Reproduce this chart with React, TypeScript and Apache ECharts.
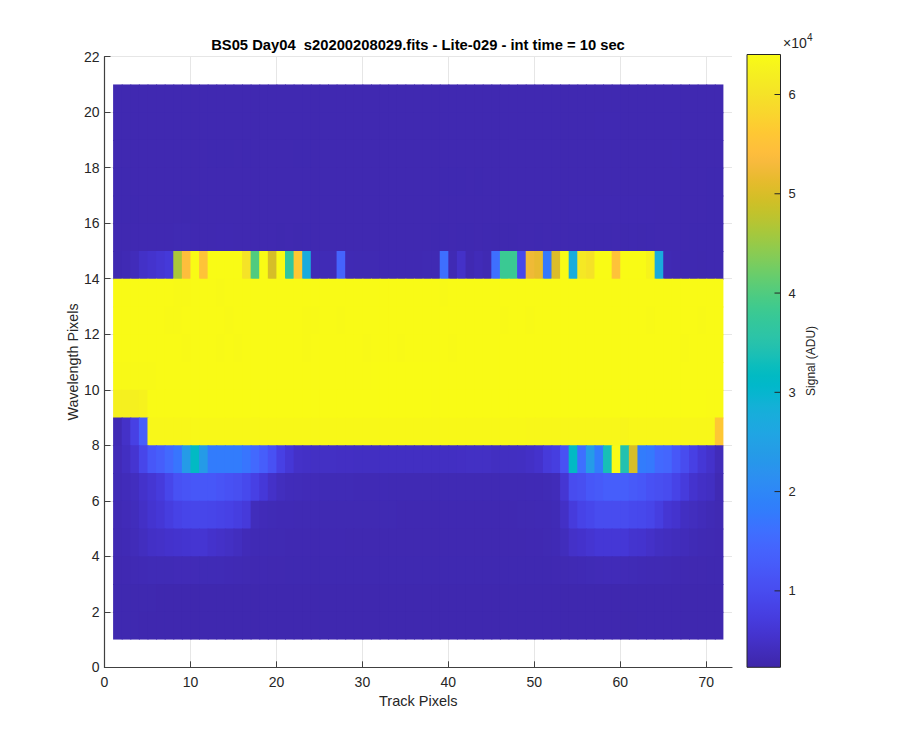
import React, { useEffect, useRef } from "react";
import * as echarts from "echarts";

const FONT = "Liberation Sans";
const TITLE = "BS05 Day04  s20200208029.fits - Lite-029 - int time = 10 sec";
const CLIM_MIN = 2300;
const CLIM_MAX = 64030;
const xTicks = [0, 10, 20, 30, 40, 50, 60, 70];
const yTicks = [0, 2, 4, 6, 8, 10, 12, 14, 16, 18, 20, 22];
const barTicks = [10000, 20000, 30000, 40000, 50000, 60000];

const parula = [
  "#3e26a8","#402ab4","#422ebf","#4432cb","#4537d5","#463cde","#4741e5","#4747eb",
  "#484df0","#4852f4","#4758f8","#465efb","#4563fd","#4269fe","#3e6fff","#3875fe",
  "#327cfc","#2f81fa","#2e87f7","#2d8cf3","#2b91ef","#2796eb","#259be7","#23a0e5",
  "#20a5e3","#1ca9df","#18addb","#12b1d6","#08b5d0","#01b8ca","#02bac3","#0bbdbd",
  "#19bfb6","#24c1ae","#2cc4a7","#31c69f","#37c897","#3fca8e","#4acb84","#57cc7a",
  "#64cd6f","#72cd64","#81cc59","#8fcb4e","#9dc943","#abc739","#b9c431","#c5c22a",
  "#d1bf27","#dcbd29","#e6bb2d","#efba36","#f8ba3d","#febe3c","#fec338","#fec833",
  "#fccf30","#f9d62d","#f7dc2a","#f5e327","#f5e924","#f5ef20","#f7f51b","#f9fb15",
];

const row1 = [
  2950,2950,2950,2900,2900,2900,2850,2850,2850,2850,
  2850,2850,2850,2850,2850,2850,2850,2850,2850,2850,
  2850,2850,2850,2850,2850,2850,2850,2850,2850,2850,
  2850,2850,2850,2850,2850,2850,2850,2850,2850,2850,
  2850,2850,2850,2850,2850,2850,2850,2850,2850,2850,
  2850,2850,2850,2850,2850,2850,2850,2850,2850,2800,
  2800,2850,2850,2850,2850,2850,2850,2850,2850,2850,2850,
];
const row2 = [
  2950,2950,2950,2950,2950,2900,2900,2900,2900,2900,
  2900,2900,2900,2900,2900,2900,2900,2900,2900,2900,
  2900,2900,2900,2900,2900,2900,2900,2900,2900,2900,
  2900,2900,2900,2900,2900,2900,2900,2900,2900,2900,
  2900,2900,2900,2900,2900,2900,2900,2900,2900,2900,
  2900,2900,2900,2900,2900,2900,2900,2900,2900,2900,
  2900,2900,2900,2900,2900,2900,2900,2900,2900,2900,2900,
];
const row3 = [
  3050,3100,3250,3350,3450,3500,3500,3550,3550,3550,
  3500,3500,3450,3400,3300,3200,3150,3100,3050,3050,
  3000,3000,3000,3000,3000,3000,3000,3000,3000,3000,
  3000,3000,3000,3000,3000,3000,3000,3000,3000,3000,
  3000,3000,3000,3000,3000,3000,3000,3000,3000,3000,
  3000,3100,3200,3300,3350,3450,3550,3600,3600,3550,
  3450,3350,3300,3250,3200,3150,3100,3050,3050,3000,3000,
];
const row4 = [
  3200,3400,3700,4300,4800,5000,5300,5500,5700,5900,
  5900,5300,5000,4700,4300,3600,3400,3300,3200,3200,
  3150,3100,3100,3100,3100,3100,3100,3050,3050,3050,
  3050,3050,3050,3050,3050,3050,3050,3050,3050,3050,
  3050,3050,3050,3050,3050,3050,3050,3050,3100,3150,
  3200,3400,4000,5000,5300,5800,6300,6300,6300,6300,
  5600,5500,5000,4500,4300,4000,3800,3500,3300,3200,3100,
];
const row5 = [
  3300,3600,4000,4800,5700,6300,7300,8300,8800,9000,
  9000,8800,8500,8200,7500,6800,3900,3600,3500,3400,
  3350,3300,3300,3250,3200,3200,3200,3200,3200,3200,
  3200,3200,3200,3150,3150,3150,3150,3150,3150,3150,
  3150,3150,3150,3150,3150,3150,3150,3200,3200,3250,
  3300,3500,4800,7000,8500,9200,10000,10000,10000,10000,
  9500,9300,8800,7500,6000,5500,4500,4200,3800,3500,3200,
];
const row6 = [
  3500,3800,4300,5200,6000,7000,9000,11000,11500,12000,
  12000,12000,11500,11000,10500,9500,8000,6500,5000,4200,
  3800,3700,3600,3600,3500,3500,3500,3500,3400,3400,
  3400,3400,3300,3300,3300,3300,3300,3300,3300,3300,
  3300,3300,3300,3300,3300,3300,3300,3300,3400,3400,
  3500,3700,6000,10000,10500,12000,12500,13000,13000,13000,
  12500,12000,11000,10500,10000,8500,7000,5500,4800,4500,3300,
];
const row7 = [
  3600,4500,5800,9000,12000,13000,15000,17000,23900,31700,
  23900,18000,18000,18000,18000,17000,15000,13000,11000,8000,
  6300,5000,4800,4700,4700,4700,4600,4600,4500,4500,
  4500,4500,4500,4500,4500,4500,4500,4500,4500,4500,
  4600,4700,4700,4700,4400,4400,4400,4500,4800,5300,
  6800,7500,11000,31500,16000,24000,18000,33500,64000,34500,
  49800,18000,17500,15000,14500,12000,10000,8000,6300,5200,3800,
];
const row8 = [
  3400,5000,8000,13000,63300,63300,63300,63300,63300,63600,
  63600,63600,63600,63600,63600,63600,63600,63600,63600,63600,
  63600,63600,63600,63600,63600,63600,63600,63600,63600,63600,
  63600,63600,63600,63600,63600,63600,63600,63600,63600,63600,
  63600,63600,63600,63600,63600,63600,63600,63600,63300,63300,
  63300,63300,63300,63300,63300,63300,63300,63300,63300,63100,
  63300,63300,63300,63300,63300,63300,63300,63300,63300,63300,56000,
];
const row9 = [
  62300,62300,62300,62600,63900,63900,63900,63900,63900,64000,
  64000,64000,64000,64000,64000,64000,64000,64000,64000,64000,
  64000,64000,64000,64000,64000,64000,64000,64000,64000,64000,
  64000,64000,64000,64000,64000,64000,64000,63800,64000,64000,
  64000,64000,64000,64000,64000,64000,64000,64000,64000,64000,
  64000,64000,64000,64000,64000,64000,64000,64000,64000,64000,
  64000,64000,64000,64000,64000,64000,64000,64000,64000,63900,63800,
];
const row10 = [
  63700,63700,63700,63700,63700,63900,63900,63900,63900,63900,
  63900,63900,63900,63900,63900,63900,63900,63900,63900,63900,
  63900,63900,63900,63900,63900,63900,63900,63900,63900,63900,
  64000,64000,64000,64000,64000,64000,64000,64000,63900,63900,
  63900,63900,63900,63900,63900,63900,63900,63900,63900,63900,
  63900,63900,63900,63900,63900,63900,63900,63900,63900,63900,
  63900,63900,63900,63900,63900,63900,63900,63900,63900,63800,63800,
];
const row11 = [
  63800,63800,63800,63800,63800,63800,63800,63800,63750,63800,
  63800,63800,63750,63800,63750,63800,63800,63800,63800,63800,
  63800,63800,63750,63800,63800,63800,63800,63800,63800,63750,
  63800,63800,63800,63750,63800,63800,63800,63800,63800,63750,
  63800,63800,63800,63800,63800,63800,63800,63800,63800,63800,
  63800,63800,63800,63800,63800,63800,63800,63800,63800,63800,
  63800,63800,63800,63800,63800,63800,63750,63800,63800,63800,63800,
];
const row12 = [
  63800,63800,63800,63800,63800,63800,63750,63750,63800,63800,
  63800,63800,63800,63750,63800,63800,63800,63800,63800,63800,
  63800,63800,63750,63750,63800,63800,63750,63800,63800,63800,
  63800,63800,63800,63800,63800,63800,63800,63800,63800,63800,
  63800,63800,63800,63800,63800,63750,63800,63800,63750,63800,
  63800,63800,63800,63800,63800,63800,63800,63800,63800,63800,
  63800,63800,63750,63800,63800,63800,63800,63800,63750,63800,63800,
];
const row13 = [
  63800,63800,63800,63800,63800,63800,63800,63750,63750,63800,
  63800,63800,63750,63800,63800,63800,63800,63800,63800,63800,
  63800,63800,63800,63800,63800,63800,63800,63800,63800,63800,
  63800,63800,63800,63800,63800,63800,63800,63800,63750,63800,
  63800,63800,63800,63800,63800,63800,63800,63800,63800,63800,
  63800,63800,63800,63800,63800,63800,63800,63800,63800,63800,
  63800,63800,63800,63800,63800,63800,63800,63800,63800,63800,63800,
];
const row14 = [
  3000,3300,3800,4900,5400,6000,6700,46400,54200,64000,
  55200,64000,64000,64000,64000,60100,40000,64000,49800,64000,
  36600,56200,27300,3500,3500,3500,14000,3300,3200,3200,
  3200,3100,3100,3100,3100,3100,3200,3200,16000,3300,
  5000,3100,3600,3200,16000,38000,38000,9100,52300,51500,
  17500,50300,64000,27500,61000,60000,64000,64000,55000,64000,
  64000,64000,62800,27300,3300,3100,3000,3000,2950,3000,3000,
];
const row15 = [
  3050,3050,3100,3150,3150,3150,3150,3200,3200,3100,
  3050,3050,3100,3100,3050,3050,3050,3050,3050,2950,
  3050,2950,3000,3050,3050,3050,3050,3050,3050,3050,
  3050,3050,3050,3050,3050,3050,3050,3000,3000,3050,
  3000,3000,3050,3000,2950,2950,2950,3050,3050,3000,
  3050,3000,3050,3000,3000,3000,3000,3000,3050,2950,
  3000,2950,3000,3050,3050,3050,3050,3000,3000,3000,3000,
];
const row16 = [
  3000,3000,3000,3050,3050,3050,3050,3050,3000,3000,
  3050,3050,3050,3050,3050,3050,3050,3050,3050,3050,
  3050,3050,3050,3050,3050,3050,3050,3050,3050,3050,
  3050,3050,3050,3050,3050,3050,3050,3050,3050,3050,
  3050,3050,3050,3050,3050,3050,3050,3050,3050,3050,
  3050,3050,3050,3100,3100,3100,3100,3100,3100,3100,
  3100,3100,3100,3050,3050,3050,3050,3050,3050,3000,3000,
];
const row17 = [
  3000,3000,3050,3050,3050,3050,3050,3050,3050,3050,
  3050,3050,3050,3050,3050,3050,3050,3050,3050,3050,
  3050,3050,3050,3050,3050,3050,3050,3050,3050,3050,
  3050,3050,3050,3050,3050,3050,3050,3050,3000,3000,
  3000,3050,3000,3050,3050,3050,3050,3050,3050,3050,
  3050,3050,3050,3050,3050,3050,3050,3050,3050,3050,
  3050,3050,3050,3050,3050,3050,3050,3050,3050,3000,3000,
];
const row18 = [
  3050,3050,3050,3050,3050,3050,3050,3050,3050,3050,
  3050,3000,3000,3000,3050,3000,3050,3050,3050,3050,
  3050,3000,3000,3050,3050,3050,3050,3050,3050,3050,
  3050,3050,3050,3050,3050,3050,3050,3050,3050,3050,
  3050,3050,3050,3050,3050,3050,3050,3050,3050,3050,
  3050,3050,3050,3050,3050,3050,3050,3050,3050,3050,
  3050,3050,3050,3050,3050,3100,3050,3050,3050,3050,3050,
];
const row19 = [
  3050,3050,3050,3050,3050,3050,3050,3050,3050,3050,
  3050,3050,3050,3050,3050,3050,3050,3050,3050,3050,
  3050,3050,3050,3050,3050,3050,3050,3050,3050,3050,
  3050,3050,3050,3050,3050,3050,3050,3050,3050,3050,
  3050,3050,3050,3050,3050,3050,3050,3050,3050,3050,
  3050,3050,3050,3050,3050,3050,3100,3100,3100,3050,
  3050,3050,3050,3050,3050,3050,3050,3050,3050,3050,3050,
];
const row20 = [
  3050,3050,3050,3050,3050,3050,3050,3050,3050,3050,
  3050,3050,3050,3050,3050,3050,3050,3050,3050,3050,
  3050,3050,3050,3050,3050,3050,3050,3050,3050,3050,
  3050,3050,3050,3050,3050,3050,3050,3050,3050,3050,
  3050,3050,3050,3050,3050,3050,3050,3050,3050,3050,
  3050,3050,3050,3050,3050,3050,3050,3050,3050,3050,
  3050,3050,3050,3050,3050,3050,3050,3050,3050,3050,3050,
];
const rows = [
  row1,row2,row3,row4,row5,row6,row7,row8,row9,row10,
  row11,row12,row13,row14,row15,row16,row17,row18,row19,row20,
];

// top rows first, so that each lower row redraws the seam-hiding overlap of the one above it
const cells: number[][] = [];
for (let j = rows.length - 1; j >= 0; j--) {
  rows[j].forEach((v, i) => cells.push([i + 1, j + 1, v]));
}
const LAST_COL = 71;

const TEXT = "#262626";
const AXIS = "#404040";
const GRIDC = "#e6e6e6";

export default function App() {
  const ref = useRef<HTMLDivElement>(null);
  useEffect(() => {
    const chart = echarts.init(ref.current!, undefined, { renderer: "svg" });
    const stops = parula.map((color, k) => ({ offset: k / (parula.length - 1), color }));
    chart.setOption({
      animation: false,
      backgroundColor: "#ffffff",
      textStyle: { fontFamily: FONT },
      title: {
        text: TITLE,
        left: 413,
        top: 32,
        textAlign: "center",
        textStyle: { fontFamily: FONT, fontSize: 14.75, fontWeight: "bold", color: "#000000" },
      },
      grid: [
        { left: 104.5, top: 56.7, width: 627.5, height: 610.6 },
        { left: 747, top: 54.5, width: 33.5, height: 612.8 },
      ],
      xAxis: [
        {
          type: "value", gridIndex: 0, min: 0, max: 73,
          name: "Track Pixels", nameLocation: "middle", nameGap: 26, nameMoveOverlap: false,
          nameTextStyle: { fontFamily: FONT, fontSize: 14.5, color: TEXT },
          axisLine: { show: true, lineStyle: { color: AXIS, width: 1.2 } },
          axisTick: { show: true, inside: true, length: 6, customValues: xTicks, lineStyle: { color: AXIS, width: 1 } },
          axisLabel: { customValues: xTicks, margin: 8, fontFamily: FONT, fontSize: 14, color: TEXT },
          splitLine: { show: true, lineStyle: { color: GRIDC, width: 1 } },
        },
        { type: "value", gridIndex: 1, min: 0, max: 1, show: false },
      ],
      yAxis: [
        {
          type: "value", gridIndex: 0, min: 0, max: 22,
          name: "Wavelength Pixels", nameLocation: "middle", nameGap: 24.5, nameRotate: 90, nameMoveOverlap: false,
          nameTextStyle: { fontFamily: FONT, fontSize: 14.3, color: TEXT },
          axisLine: { show: true, lineStyle: { color: AXIS, width: 1.2 } },
          axisTick: { show: true, inside: true, length: 6, customValues: yTicks, lineStyle: { color: AXIS, width: 1 } },
          axisLabel: { customValues: yTicks, margin: 5, fontFamily: FONT, fontSize: 14, color: TEXT },
          splitLine: { show: true, lineStyle: { color: GRIDC, width: 1 } },
        },
        {
          type: "value", gridIndex: 1, min: CLIM_MIN, max: CLIM_MAX, position: "right",
          name: "Signal (ADU)", nameLocation: "middle", nameGap: 24, nameRotate: 90, nameMoveOverlap: false,
          nameTextStyle: { fontFamily: FONT, fontSize: 12, color: TEXT },
          axisLine: { show: false },
          axisTick: { show: false },
          axisLabel: {
            customValues: barTicks, margin: 8, padding: [3, 0, 0, 0], fontFamily: FONT, fontSize: 13, color: TEXT,
            formatter: (v: number) => String(v / 10000),
          },
          splitLine: { show: false },
        },
      ],
      visualMap: {
        show: false, type: "continuous", seriesIndex: 0, dimension: 2,
        min: CLIM_MIN, max: CLIM_MAX, inRange: { color: parula },
      },
      series: [
        {
          type: "custom", xAxisIndex: 0, yAxisIndex: 0, data: cells,
          encode: { x: 0, y: 1 }, clip: false, progressive: 0,
          renderItem: (_p: any, api: any) => {
            const x = api.value(0);
            const y = api.value(1);
            const a = api.coord([x, y + 1]);
            const b = api.coord([x + 1, y]);
            const overX = x < LAST_COL ? 1 : 0;
            const overY = y > 1 ? 1 : 0;
            return {
              type: "rect",
              shape: { x: a[0], y: a[1], width: b[0] - a[0] + overX, height: b[1] - a[1] + overY },
              style: { fill: api.visual("color"), stroke: null },
            };
          },
        },
        {
          type: "custom", xAxisIndex: 1, yAxisIndex: 1, data: [[0, CLIM_MIN, 1, CLIM_MAX]],
          encode: { x: [0, 2], y: [1, 3] }, clip: false,
          renderItem: (_p: any, api: any) => {
            const a = api.coord([api.value(0), api.value(3)]);
            const b = api.coord([api.value(2), api.value(1)]);
            return {
              type: "rect",
              shape: { x: a[0], y: a[1], width: b[0] - a[0], height: b[1] - a[1] },
              style: {
                fill: new echarts.graphic.LinearGradient(0, 1, 0, 0, stops),
                stroke: TEXT,
                lineWidth: 1,
              },
            };
          },
        },
        {
          type: "custom", xAxisIndex: 1, yAxisIndex: 1, data: barTicks.map((v) => [1, v]),
          encode: { x: 0, y: 1 }, clip: false, z: 5,
          renderItem: (_p: any, api: any) => {
            const p = api.coord([api.value(0), api.value(1)]);
            return {
              type: "line",
              shape: { x1: p[0] - 6, y1: p[1], x2: p[0], y2: p[1] },
              style: { stroke: TEXT, lineWidth: 1 },
            };
          },
        },
      ],
      graphic: [
        {
          type: "text", left: 783, top: 36,
          style: { text: "×10", fontFamily: FONT, fontSize: 14, fill: TEXT },
        },
        {
          type: "text", left: 807, top: 32,
          style: { text: "4", fontFamily: FONT, fontSize: 10, fill: TEXT },
        },
      ],
    });
    return () => chart.dispose();
  }, []);
  return <div ref={ref} style={{ position: "absolute", left: 0, top: 0, width: 900, height: 750 }} />;
}
